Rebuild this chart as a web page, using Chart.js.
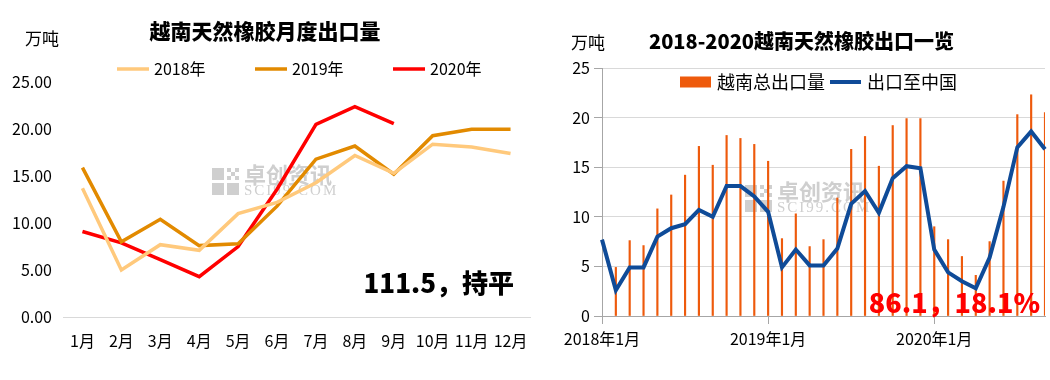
<!DOCTYPE html>
<html>
<head>
<meta charset="utf-8">
<script src="https://cdn.jsdelivr.net/npm/chart.js@4.4.0/dist/chart.umd.min.js"></script>
<style>
  html, body { margin: 0; padding: 0; background: #fff; }
  body { width: 1050px; height: 380px; position: relative; overflow: hidden; }
  #monthly { position: absolute; left: 0; top: 0; }
  #overview { position: absolute; left: 558px; top: 0; }
</style>
</head>
<body>
<canvas id="monthly" width="542" height="380"></canvas>
<canvas id="overview" width="492" height="380"></canvas>
<script>
// left chart: monthly exports by year (万吨)
const months = ['1月', '2月', '3月', '4月', '5月', '6月', '7月', '8月', '9月', '10月', '11月', '12月'];
const exp2018 = [13.7, 5.0, 7.7, 7.1, 11.0, 12.2, 14.3, 17.2, 15.3, 18.4, 18.1, 17.4];
const exp2019 = [15.9, 8.0, 10.4, 7.6, 7.8, 11.8, 16.8, 18.2, 15.2, 19.3, 20.0, 20.0];
const exp2020 = [9.1, 7.9, 6.1, 4.3, 7.5, 13.6, 20.5, 22.4, 20.6, null, null, null];

// right chart: Jan 2018 - Sep 2020
const periods = [];
[2018, 2019, 2020].forEach(y => {
  for (let m = 1; m <= 12; m++) {
    if (y === 2020 && m > 9) break;
    periods.push(y + '年' + m + '月');
  }
});
const totalExports = [null, 4.9, 7.6, 7.1, 10.8, 12.2, 14.2, 17.1, 15.2, 18.2, 17.9, 17.3,
  15.6, 7.8, 10.3, 7.0, 7.7, 11.9, 16.8, 18.1, 15.1, 19.2, 19.9, 19.9,
  9.0, 7.7, 6.0, 4.1, 7.5, 13.6, 20.3, 22.3, 20.5];
const chinaExports = [7.7, 2.6, 4.9, 4.9, 8.0, 8.85, 9.25, 10.7, 10.0, 13.1, 13.1, 12.05,
  10.5, 4.9, 6.7, 5.1, 5.1, 6.8, 11.3, 12.6, 10.4, 13.9, 15.1, 14.9,
  6.7, 4.4, 3.5, 2.8, 5.9, 11.0, 17.0, 18.6, 16.8];

const FONT = '"Microsoft YaHei", "Noto Sans CJK SC", sans-serif';
Chart.defaults.font.family = FONT;
Chart.defaults.color = '#000';

// legend drawn by hand so it can sit where the original puts it
const customLegend = {
  id: 'customLegend',
  afterDraw(chart, args, o) {
    const ctx = chart.ctx;
    let x = o.x;
    ctx.save();
    ctx.font = o.size + 'px ' + FONT;
    ctx.textBaseline = 'middle';
    chart.data.datasets.forEach(ds => {
      if (ds.type === 'bar') {
        ctx.fillStyle = ds.backgroundColor;
        ctx.fillRect(x, o.y - o.boxHeight / 2, o.boxWidth, o.boxHeight);
      } else {
        ctx.strokeStyle = ds.borderColor;
        ctx.lineWidth = ds.borderWidth;
        ctx.beginPath();
        ctx.moveTo(x, o.y);
        ctx.lineTo(x + o.boxWidth, o.y);
        ctx.stroke();
      }
      ctx.fillStyle = '#000';
      ctx.fillText(ds.label, x + o.boxWidth + o.textGap, o.y);
      x += o.step || (o.boxWidth + o.textGap + ctx.measureText(ds.label).width + o.itemGap);
    });
    ctx.restore();
  }
};

// unit label, watermark and the big note
const extras = {
  id: 'extras',
  beforeDatasetsDraw(chart, args, o) {
    const ctx = chart.ctx;
    const { x, y } = o.mark;
    ctx.save();
    ctx.fillStyle = '#cfcfcf';
    ctx.fillRect(x, y, 12, 12);
    ctx.fillRect(x, y + 15, 12, 12);
    ctx.fillRect(x + 15, y + 15, 12, 12);
    [[0, 0], [8, 0], [4, 4], [0, 8], [8, 8]].forEach(p => ctx.fillRect(x + 15 + p[0], y + p[1], 4, 4));
    ctx.textBaseline = 'middle';
    ctx.font = 'bold 22px ' + FONT;
    ctx.fillText('卓创资讯', x + 32, y + 7);
    ctx.font = '15px "Liberation Serif", serif';
    ctx.letterSpacing = '2px';
    ctx.fillText('SCI99.COM', x + 32, y + 23);
    ctx.restore();
  },
  afterDraw(chart, args, o) {
    const ctx = chart.ctx;
    ctx.save();
    ctx.textBaseline = 'middle';
    ctx.textAlign = 'center';
    ctx.fillStyle = '#000';
    ctx.font = '17px ' + FONT;
    ctx.fillText('万吨', o.unit.x, o.unit.y);
    ctx.textAlign = 'right';
    ctx.fillStyle = o.note.color;
    ctx.font = '900 ' + o.note.size + 'px ' + FONT;
    ctx.fillText(o.note.text, o.note.x, o.note.y);
    ctx.restore();
  }
};

new Chart(document.getElementById('monthly'), {
  type: 'line',
  data: {
    labels: months,
    datasets: [
      { label: '2018年', data: exp2018, borderColor: '#FFC97C', borderWidth: 3.5 },
      { label: '2019年', data: exp2019, borderColor: '#E28A00', borderWidth: 3.5 },
      { label: '2020年', data: exp2020, borderColor: '#FF0000', borderWidth: 3.5 }
    ]
  },
  options: {
    responsive: false,
    animation: false,
    layout: { padding: { right: 12 } },
    elements: { line: { tension: 0 }, point: { radius: 0 } },
    plugins: {
      legend: { display: false },
      tooltip: { enabled: false },
      title: {
        display: true,
        text: '越南天然橡胶月度出口量',
        color: '#000',
        font: { size: 21, weight: 900 },
        padding: { top: 18, bottom: 39 }
      },
      customLegend: { x: 117, y: 69, step: 138, boxWidth: 32, textGap: 5, size: 16 },
      extras: {
        unit: { x: 42, y: 39 },
        mark: { x: 212, y: 168 },
        note: { text: '111.5，持平', x: 514, y: 283, size: 26, color: '#000' }
      }
    },
    scales: {
      x: {
        offset: true,
        grid: { display: false, drawTicks: false },
        border: { color: '#D9D9D9' },
        ticks: { font: { size: 16 }, padding: 14, maxRotation: 0, autoSkip: false },
        afterFit: s => { s.height = 63; }
      },
      y: {
        min: 0,
        max: 25,
        grid: { display: false, drawTicks: false },
        border: { display: false },
        ticks: { stepSize: 5, font: { size: 16 }, padding: 11, callback: v => v.toFixed(2) },
        afterFit: s => { s.width = 63; }
      }
    }
  },
  plugins: [customLegend, extras]
});

new Chart(document.getElementById('overview'), {
  type: 'bar',
  data: {
    labels: periods,
    datasets: [
      { type: 'bar', label: '越南总出口量', data: totalExports, backgroundColor: '#EE5A0C', barThickness: 1.5, order: 1 },
      { type: 'line', label: '出口至中国', data: chinaExports, borderColor: '#0F4B98', borderWidth: 4, pointRadius: 0, tension: 0, order: 0 }
    ]
  },
  options: {
    responsive: false,
    animation: false,
    layout: { padding: { right: 5 } },
    plugins: {
      legend: { display: false },
      tooltip: { enabled: false },
      title: {
        display: true,
        text: '2018-2020越南天然橡胶出口一览',
        color: '#000',
        font: { size: 20, weight: 900 },
        padding: { top: 29, bottom: 15 }
      },
      customLegend: { x: 122, y: 82, boxWidth: 31, boxHeight: 11, textGap: 6, itemGap: 5, size: 18 },
      extras: {
        unit: { x: 30, y: 43 },
        mark: { x: 187, y: 185 },
        note: { text: '86.1，18.1%', x: 482, y: 303, size: 27, color: '#FF0000' }
      }
    },
    scales: {
      x: {
        offset: false,
        grid: { offset: false, drawOnChartArea: false, tickLength: 8, color: '#A6A6A6' },
        border: { color: '#A6A6A6' },
        ticks: { autoSkip: false, maxRotation: 0, font: { size: 16 }, padding: 5 },
        afterBuildTicks: s => { s.ticks = s.ticks.filter(t => t.value % 12 === 0); },
        afterFit: s => { s.height = 64; }
      },
      y: {
        min: 0,
        max: 25,
        grid: { color: '#D9D9D9', tickColor: '#A6A6A6', tickLength: 8 },
        border: { color: '#A6A6A6' },
        ticks: { stepSize: 5, font: { size: 16 }, padding: 4 },
        afterFit: s => { s.width = 44; }
      }
    }
  },
  plugins: [customLegend, extras]
});
</script>
</body>
</html>
